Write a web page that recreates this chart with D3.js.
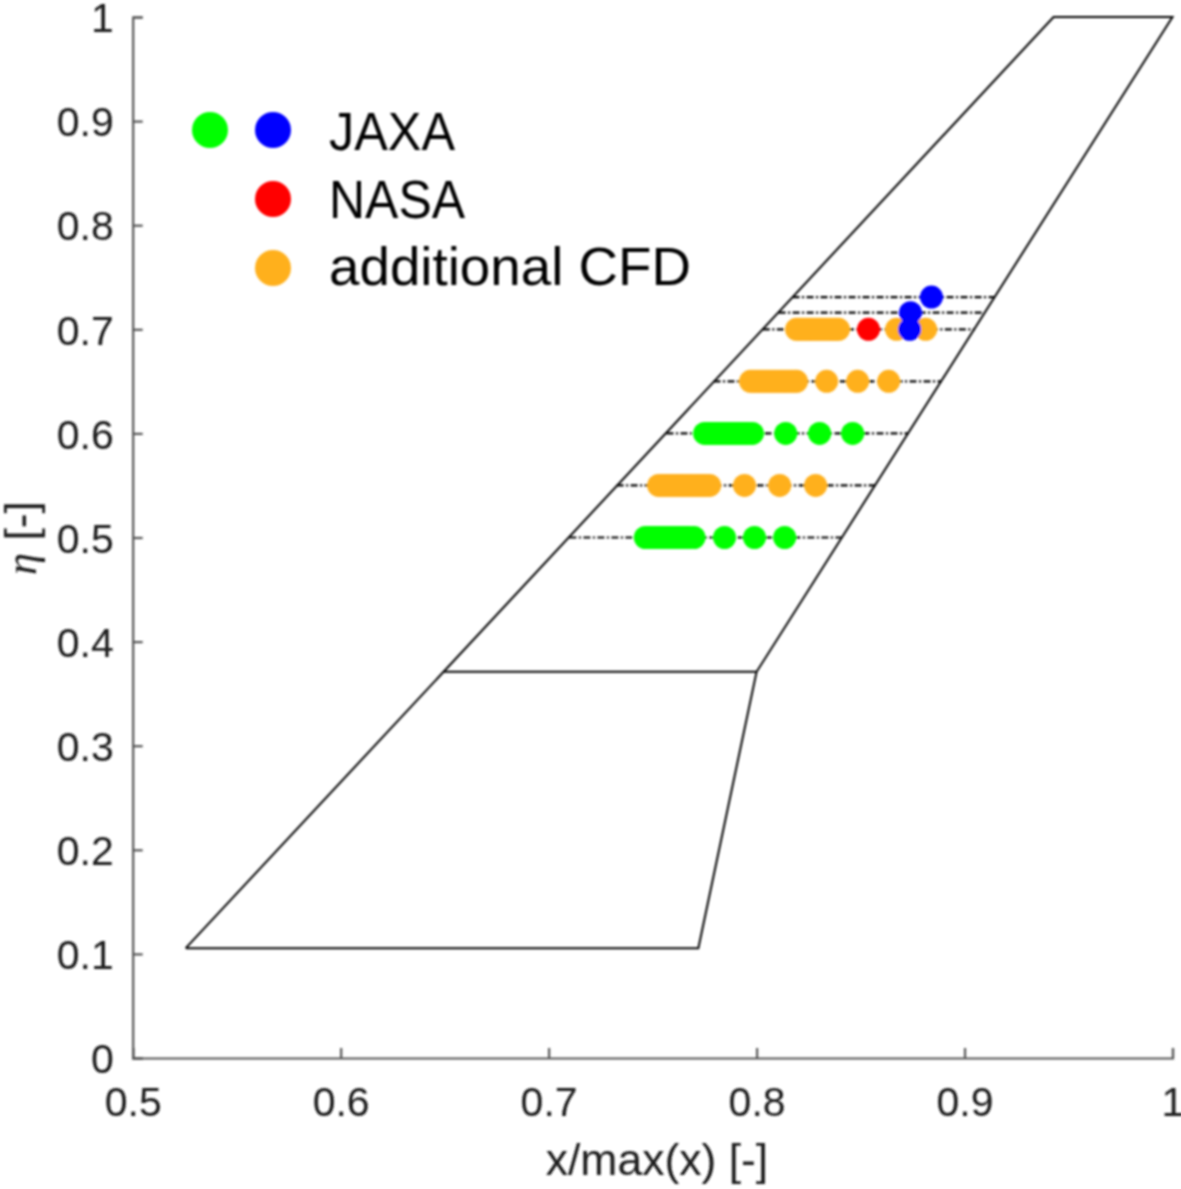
<!DOCTYPE html>
<html>
<head>
<meta charset="utf-8">
<script src="https://cdn.jsdelivr.net/npm/d3@7"></script>
<style>
  html, body { margin: 0; padding: 0; background: #fff; }
  text { font-family: "Liberation Sans", Arial, sans-serif; fill: #1a1a1a; }
</style>
</head>
<body>
<div id="chart"></div>
<script>
const xTicks = [0.5, 0.6, 0.7, 0.8, 0.9, 1];
const yTicks = [0, 0.1, 0.2, 0.3, 0.4, 0.5, 0.6, 0.7, 0.8, 0.9, 1];

// planform corners, x/max(x) and eta
const wingX = [0.5255, 0.6495, 0.9428, 1.0, 0.8, 0.772, 0.5255];
const wingY = [0.1055, 0.371, 1, 1, 0.371, 0.1055, 0.1055];
const kinkX = [0.6495, 0.8];
const kinkY = [0.371, 0.371];

// span stations (dash-dot chords)
const stationEta = [0.5, 0.55, 0.6, 0.65, 0.7, 0.716, 0.731];
const stationStart = [0.71, 0.7327, 0.7567, 0.7793, 0.803, 0.8106, 0.8173];
const stationEnd = [0.841, 0.857, 0.873, 0.889, 0.905, 0.9096, 0.9144];

// chordwise probes per station, dense group at the front then three singles
const green50 = [0.7465, 0.748, 0.7495, 0.751, 0.7525, 0.754, 0.7555, 0.757, 0.7585, 0.76, 0.7615, 0.763, 0.7645, 0.766, 0.7675, 0.7699, 0.7846, 0.799, 0.8135];
const green60 = [0.775, 0.7765, 0.778, 0.7795, 0.781, 0.7825, 0.784, 0.7855, 0.787, 0.7885, 0.79, 0.7915, 0.793, 0.7945, 0.796, 0.798, 0.814, 0.8303, 0.8462];
const orange55 = [0.7529, 0.7545, 0.756, 0.7575, 0.759, 0.7605, 0.762, 0.7635, 0.765, 0.7665, 0.768, 0.7695, 0.771, 0.7725, 0.774, 0.7755, 0.7774, 0.7942, 0.8111, 0.8284];
const orange65 = [0.7971, 0.7985, 0.8, 0.8015, 0.803, 0.8045, 0.806, 0.8075, 0.809, 0.8105, 0.812, 0.8135, 0.815, 0.8165, 0.818, 0.8192, 0.8337, 0.8486, 0.8635];
const orange70 = [0.8192, 0.8205, 0.822, 0.8235, 0.825, 0.8265, 0.828, 0.8295, 0.831, 0.8325, 0.834, 0.8355, 0.837, 0.8382, 0.8394, 0.8673, 0.8813];
const redX = [0.8538];
const redY = [0.7];
const blueX = [0.8736, 0.874, 0.8841];
const blueY = [0.7, 0.716, 0.731];

const legendNames = ['JAXA', 'NASA', 'additional CFD'];
const legendColors = ['#0000ff', '#ff0000', '#ffb01e'];

const width = 1181, height = 1189;

const x = d3.scaleLinear().domain([0.5, 1]).range([132.7, 1172.5]);
const y = d3.scaleLinear().domain([0, 1]).range([1058, 17]);

const svg = d3.select('#chart').append('svg')
  .attr('width', width)
  .attr('height', height)
  .style('display', 'block');

// reference is a slightly soft raster
const soft = svg.append('defs').append('filter')
  .attr('id', 'soft')
  .attr('filterUnits', 'userSpaceOnUse')
  .attr('x', 0).attr('y', 0).attr('width', width).attr('height', height);
soft.append('feGaussianBlur').attr('stdDeviation', 0.8);

const root = svg.append('g').attr('filter', 'url(#soft)');

// chords
root.append('g').selectAll('line')
  .data(stationEta)
  .enter()
  .append('line')
  .attr('x1', (d, i) => x(stationStart[i]))
  .attr('x2', (d, i) => x(stationEnd[i]))
  .attr('y1', d => y(d))
  .attr('y2', d => y(d))
  .attr('stroke', '#000')
  .attr('stroke-width', 2.2)
  .attr('stroke-dasharray', '7 2.5 2 2.5');

// planform
const outline = d3.line().x(d => x(d[0])).y(d => y(d[1]));
root.append('path')
  .attr('d', outline(d3.zip(wingX, wingY)))
  .attr('fill', 'none')
  .attr('stroke', '#000')
  .attr('stroke-width', 2);
root.append('path')
  .attr('d', outline(d3.zip(kinkX, kinkY)))
  .attr('fill', 'none')
  .attr('stroke', '#000')
  .attr('stroke-width', 2);

// probes
function dots(xs, ys, color) {
  root.append('g').selectAll('circle')
    .data(d3.zip(xs, ys))
    .enter()
    .append('circle')
    .attr('cx', d => x(d[0]))
    .attr('cy', d => y(d[1]))
    .attr('r', 11.5)
    .attr('fill', color);
}
const same = (xs, eta) => xs.map(() => eta);
dots(green50, same(green50, 0.5), '#00ff00');
dots(orange55, same(orange55, 0.55), '#ffb01e');
dots(green60, same(green60, 0.6), '#00ff00');
dots(orange65, same(orange65, 0.65), '#ffb01e');
dots(orange70, same(orange70, 0.7), '#ffb01e');
dots(redX, redY, '#ff0000');
dots(blueX, blueY, '#0000ff');

// axes
const axisColor = '#555';
const xAxis = root.append('g').attr('transform', `translate(0,${y(0)})`)
  .call(d3.axisBottom(x).tickValues(xTicks).tickFormat(d3.format('~g')).tickSize(-10).tickPadding(29));
const yAxis = root.append('g').attr('transform', `translate(${x(0.5)},0)`)
  .call(d3.axisLeft(y).tickValues(yTicks).tickFormat(d3.format('~g')).tickSize(-10).tickPadding(19));
[xAxis, yAxis].forEach(a => {
  a.attr('font-family', null).attr('font-size', null);
  a.select('.domain').attr('stroke', axisColor).attr('stroke-width', 2.2);
  a.selectAll('.tick line').attr('stroke', axisColor).attr('stroke-width', 2.2);
  a.selectAll('.tick text').style('font-size', '41px');
});
yAxis.selectAll('.tick text').attr('dy', '0.36em');

root.append('text')
  .attr('x', 657)
  .attr('y', 1175)
  .attr('text-anchor', 'middle')
  .style('font-size', '44.5px')
  .text('x/max(x) [-]');

const yLabel = root.append('text')
  .attr('transform', 'translate(36,538) rotate(-90)')
  .attr('text-anchor', 'middle')
  .style('font-size', '44.5px');
yLabel.append('tspan')
  .style('font-family', '"Liberation Serif", serif')
  .style('font-style', 'italic')
  .text('η');
yLabel.append('tspan').text(' [-]');

// legend
const legendY = [130, 199, 268];
const legendBase = [150, 218, 285];
const legendWidth = [126, 136, 362];
const legend = root.append('g');
legend.append('circle').attr('cx', 210).attr('cy', legendY[0]).attr('r', 18).attr('fill', '#00ff00');
legendNames.forEach((name, i) => {
  legend.append('circle')
    .attr('cx', 273)
    .attr('cy', legendY[i])
    .attr('r', 18)
    .attr('fill', legendColors[i]);
  legend.append('text')
    .attr('x', 329)
    .attr('y', legendBase[i])
    .attr('textLength', legendWidth[i])
    .attr('lengthAdjust', 'spacingAndGlyphs')
    .style('font-size', '53px')
    .style('fill', '#000')
    .text(name);
});
</script>
</body>
</html>
